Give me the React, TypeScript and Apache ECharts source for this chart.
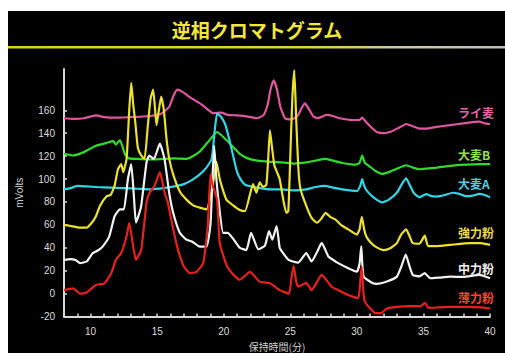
import { useEffect, useRef } from "react";
import * as echarts from "echarts";

// Reversed-phase chromatograms of six cereal flours (retention time in minutes, signal in mV)
const TITLE = "逆相クロマトグラム";
const X_NAME = "保持時間(分)";
const Y_NAME = "mVolts";

const SAMPLE_NAMES = ["ライ麦", "大麦B", "大麦A", "強力粉", "中力粉", "薄力粉"];

const X_TICKS = [9, 10, 11, 12, 13, 14, 15, 16, 17, 18, 19, 20, 21, 22, 23, 24, 25, 26, 27, 28, 29, 30, 31, 32, 33, 34, 35, 36, 37, 38, 39, 40];
const X_LABELS = [10, 15, 20, 25, 30, 35, 40];
const Y_TICKS = [-20, 0, 20, 40, 60, 80, 100, 120, 140, 160];

type Pt = [number, number];

const rye: Pt[] = [
  [8, 153], [8.7, 152.5], [9.5, 153], [10.4, 155.5], [11, 154], [12, 153.5], [12.9, 154], [13.8, 154.5],
  [14.5, 155], [15.3, 157], [15.9, 163], [16.2, 172], [16.5, 178], [16.9, 176], [17.5, 171], [18.4, 164.5],
  [19.2, 157.5], [19.8, 158], [20.3, 156], [21, 155.5], [21.8, 154.5], [22.5, 153], [23.0, 156], [23.3, 165],
  [23.55, 180], [23.75, 186], [24.0, 178], [24.25, 163], [24.6, 153], [25.0, 152], [25.3, 153], [25.6, 156],
  [25.85, 162], [26.1, 166], [26.4, 161], [26.7, 155], [27.0, 153], [27.3, 154], [27.7, 156], [28.2, 155],
  [28.7, 153], [29.7, 151.5], [30.2, 151.5], [30.4, 153.5], [30.6, 151], [31.0, 146], [31.5, 141], [32.0, 140],
  [32.6, 141.5], [33.2, 145], [33.7, 148], [34.2, 146], [34.7, 144], [35.2, 144], [36, 145.5], [37, 147],
  [38, 148.5], [39.2, 150], [39.6, 148.5], [40, 148],
];

const barleyB: Pt[] = [
  [8, 122], [8.7, 120.5], [9.4, 123], [9.9, 126], [10.4, 129], [11.2, 131.5], [11.7, 133], [11.9, 130],
  [12.2, 134], [12.4, 128], [12.6, 121], [12.9, 118], [13.5, 117.5], [14.5, 117], [15.4, 117.5], [16.3, 118],
  [17.2, 117.5], [17.7, 120], [18.2, 124], [18.8, 132], [19.5, 141], [20.2, 134], [20.7, 128], [21.2, 122],
  [21.8, 118], [22.5, 116], [23.5, 115], [24.4, 114.5], [25.3, 113.5], [26.2, 114.5], [26.9, 116], [27.6, 117.5],
  [28.2, 116], [28.9, 114], [29.9, 112.5], [30.2, 114], [30.4, 120.5], [30.6, 114], [30.9, 111.5], [31.4, 107],
  [31.9, 104.5], [32.4, 106], [33, 109], [33.7, 112], [34.2, 110], [34.7, 108.5], [35.2, 109], [36, 110],
  [37, 111.5], [38.2, 112.5], [39.2, 113], [40, 113],
];

const barleyA: Pt[] = [
  [8, 91], [8.5, 92], [9, 94], [9.7, 93.5], [10.5, 93], [11.5, 92.5], [12.5, 92], [13.5, 91.5], [14.5, 91],
  [15.5, 92], [16.3, 93.5], [17, 95.5], [17.6, 99], [18.2, 104], [18.7, 110], [19.1, 118], [19.3, 140],
  [19.5, 157], [19.75, 155], [20.1, 148], [20.45, 133], [20.75, 118], [21.0, 106], [21.3, 99], [21.6, 95],
  [22.5, 92.5], [23.5, 91], [24.4, 91], [25.3, 90], [26.2, 91], [26.9, 93], [27.6, 94], [28.2, 92.5], [28.9, 91],
  [30, 89.5], [30.25, 94], [30.4, 100], [30.55, 94], [30.8, 89], [31.3, 83.5], [31.9, 79.5], [32.4, 82],
  [33, 88], [33.4, 96], [33.7, 100.5], [34, 94], [34.3, 87.5], [34.7, 84], [35.2, 86.8], [35.6, 85], [36, 84.7],
  [36.6, 86], [37.2, 88], [37.7, 87], [38.2, 85], [38.7, 85.5], [39.2, 87], [39.6, 86], [40, 84],
];

const strongFlour: Pt[] = [
  [8, 60], [8.5, 59], [9.2, 57.5], [9.7, 57.5], [10.1, 62], [10.4, 67.5], [10.7, 76.5], [11.2, 85], [11.5, 86],
  [11.8, 94], [12.05, 108.5], [12.3, 113], [12.45, 106], [12.7, 117.5], [12.9, 160], [13.05, 184], [13.2, 165],
  [13.35, 150], [13.55, 127], [13.8, 120.5], [14.05, 117.5], [14.3, 147], [14.5, 170], [14.7, 178], [14.95, 147],
  [15.1, 158], [15.3, 172], [15.5, 160], [15.7, 135], [15.9, 118], [16.2, 104], [16.7, 89], [17.2, 82],
  [17.7, 77], [18.2, 75], [18.7, 73.5], [19.0, 84], [19.25, 100], [19.45, 115], [19.7, 100], [19.95, 90],
  [20.2, 82], [20.7, 77], [21.2, 73], [21.6, 72], [22.0, 88], [22.2, 95.5], [22.45, 88], [22.7, 97], [22.95, 93],
  [23.2, 95], [23.35, 120], [23.47, 142.5], [23.6, 130], [23.8, 112], [24.0, 106], [24.2, 100], [24.5, 80],
  [24.7, 70.5], [24.85, 72], [25.0, 120], [25.15, 170], [25.3, 195], [25.45, 150], [25.6, 110], [25.75, 92],
  [26.2, 76.5], [26.6, 66], [27.0, 61.8], [27.3, 65], [27.65, 70.5], [28.0, 67], [28.4, 64.5], [28.8, 60],
  [29.35, 56], [30.0, 51.5], [30.2, 56], [30.37, 67], [30.55, 56], [30.7, 50], [31.0, 45], [31.4, 41], [32.0, 38],
  [32.5, 39.5], [33.0, 44], [33.35, 52], [33.7, 56], [34.0, 49], [34.2, 44], [34.7, 43.5], [35.1, 50.5],
  [35.35, 41.5], [36, 41.5], [37, 42.5], [38.5, 44], [39.3, 44], [40, 42.5],
];

const mediumFlour: Pt[] = [
  [8, 29.5], [8.5, 30], [8.9, 29], [9.2, 26.6], [9.7, 28], [10.17, 35.4], [10.6, 38], [10.9, 41], [11.4, 50],
  [11.8, 67.5], [12.2, 73.5], [12.5, 73.5], [12.8, 100], [13.05, 113], [13.25, 85], [13.4, 62], [13.6, 68],
  [13.8, 76.5], [14.2, 114.5], [14.4, 120.5], [14.75, 117.5], [15.2, 130.8], [15.55, 117.5], [15.9, 88],
  [16.2, 70.5], [16.7, 53], [17.2, 47], [17.6, 45.5], [18.2, 41], [18.7, 41], [19.0, 60], [19.15, 100],
  [19.28, 129], [19.45, 100], [19.6, 82], [19.95, 53], [20.3, 53], [20.7, 48], [21.2, 40], [21.7, 38],
  [22.05, 53], [22.6, 38.5], [23.1, 42], [23.4, 54.5], [23.65, 47], [23.97, 59], [24.2, 40], [24.35, 37],
  [24.85, 29.5], [25.2, 28], [25.6, 27], [26.2, 35.4], [26.6, 28], [27.0, 36], [27.36, 44.2], [27.85, 32.5],
  [28.2, 29.5], [28.6, 26.6], [29.35, 22.2], [30.0, 19.2], [30.2, 26], [30.33, 41.2], [30.5, 15], [31.2, 9],
  [31.5, 8.5], [32.25, 10.5], [33.0, 14.8], [33.35, 24], [33.67, 34], [33.95, 24], [34.2, 16.3], [34.7, 15],
  [35.1, 17.8], [35.5, 13.4], [36.2, 14], [37, 14.8], [38, 14.5], [39.2, 16.3], [40, 13.4],
];

const weakFlour: Pt[] = [
  [8, 3], [8.7, 4.6], [9.2, 0], [9.7, 1], [10.4, 7.5], [11.05, 9], [11.55, 17.8], [11.9, 29.5], [12.3, 35.4],
  [12.7, 50], [12.9, 61.8], [13.2, 41], [13.4, 29.5], [13.8, 38.3], [14.2, 79.5], [14.43, 88], [14.8, 94],
  [15.2, 106], [15.56, 88], [15.8, 79.5], [16.1, 62], [16.5, 41], [17.0, 23.6], [17.46, 17.8], [17.96, 19],
  [18.46, 26.6], [18.8, 59], [19.0, 104], [19.15, 95], [19.5, 82], [19.7, 44], [20.2, 25], [20.6, 18],
  [21.2, 12], [21.97, 19], [22.7, 10.4], [23.47, 9], [24.2, 3], [24.9, 0], [25.1, 15], [25.25, 24.5],
  [25.45, 10], [25.6, 6], [26.2, 9.3], [26.6, 3], [27.36, 16.3], [28.1, 6], [28.6, 3], [29.35, -1.3],
  [30.1, -4], [30.25, 10], [30.36, 23.6], [30.5, 0], [30.6, -7], [31.0, -13], [31.4, -17], [31.8, -17],
  [32.25, -13], [33, -11.6], [34, -11], [34.8, -11], [35.1, -8], [35.4, -12.5], [36.2, -12], [37, -11.6],
  [38.5, -11.6], [39.3, -12], [40, -13],
];

const TRACES: Pt[][] = [rye, barleyB, barleyA, strongFlour, mediumFlour, weakFlour];

const LINE_COLORS = ["#e0559f", "#2ddc2a", "#2fd6e6", "#ece22a", "#f2f2f2", "#e8201c"];
const LABEL_COLORS = ["#e463a6", "#8fe24a", "#4ccbe2", "#e8d84a", "#f0f0f0", "#f2452f"];
// legend text placement at the right edge (px)
const LABEL_POS: [number, number][] = [
  [458, 112], [458, 154], [458, 183], [458, 232], [458, 268], [458, 297],
];

const JP_FONT = '"Noto Sans CJK JP", "Noto Sans", sans-serif';
const AX_FONT = '"Liberation Sans", Arial, sans-serif';

export default function App() {
  const ref = useRef<HTMLDivElement>(null);

  useEffect(() => {
    if (!ref.current) return;
    const chart = echarts.init(ref.current, null, { renderer: "svg" });

    const option: any = {
      animation: false,
      backgroundColor: "#ffffff",
      grid: { left: 64, right: 15, top: 69, bottom: 36.5, outerBoundsMode: "none" },
      xAxis: {
        type: "value",
        min: 8,
        max: 40,
        name: X_NAME,
        nameLocation: "middle",
        nameGap: 24,
        nameTextStyle: { color: "#cfcfcf", fontSize: 10, fontFamily: JP_FONT },
        axisLine: { show: true, onZero: false, lineStyle: { color: "#d8d8d8", width: 2 } },
        axisTick: { show: true, inside: true, length: 3, customValues: X_TICKS, lineStyle: { color: "#d8d8d8", width: 1.5 } },
        axisLabel: { customValues: X_LABELS, color: "#dcdcdc", fontSize: 10, fontFamily: AX_FONT, margin: 10 },
        splitLine: { show: false },
      },
      yAxis: {
        type: "value",
        min: -20,
        max: 196,
        name: Y_NAME,
        nameLocation: "middle",
        nameRotate: 90,
        nameGap: 40,
        nameTextStyle: { color: "#cfcfcf", fontSize: 10, fontFamily: AX_FONT },
        axisLine: { show: true, onZero: false, lineStyle: { color: "#d8d8d8", width: 2 } },
        axisTick: { show: true, inside: true, length: 3, customValues: Y_TICKS, lineStyle: { color: "#d8d8d8", width: 1.5 } },
        axisLabel: { customValues: Y_TICKS, color: "#dcdcdc", fontSize: 10, fontFamily: AX_FONT, margin: 9 },
        splitLine: { show: false },
      },
      graphic: [
        { type: "rect", z: -10, shape: { x: 8, y: 11, width: 497, height: 342 }, style: { fill: "#000000" } },
        {
          type: "rect",
          z: -5,
          shape: { x: 8, y: 46, width: 497, height: 2.5 },
          style: {
            fill: new echarts.graphic.LinearGradient(0, 0, 1, 0, [
              { offset: 0, color: "#d8d21c" },
              { offset: 0.6, color: "#dcd63a" },
              { offset: 0.8, color: "#c8c8b0" },
              { offset: 1, color: "#bdbdbd" },
            ]),
          },
        },
        {
          type: "text",
          x: 257,
          y: 29,
          style: {
            text: TITLE,
            fill: "#f2e63a",
            font: `bold 19px ${JP_FONT}`,
            align: "center",
            verticalAlign: "middle",
          },
        },
        ...SAMPLE_NAMES.map((name, i) => ({
          type: "text",
          x: LABEL_POS[i][0],
          y: LABEL_POS[i][1],
          style: {
            text: name,
            fill: LABEL_COLORS[i],
            font: `bold 12px ${JP_FONT}`,
            align: "left",
            verticalAlign: "middle",
          },
        })),
      ],
      series: SAMPLE_NAMES.map((name, i) => ({
        name,
        type: "line",
        data: TRACES[i],
        showSymbol: false,
        symbol: "none",
        smooth: 0.15,
        lineStyle: { color: LINE_COLORS[i], width: 2.2 },
        z: 2 + i,
      })),
    };

    chart.setOption(option);
    return () => chart.dispose();
  }, []);

  return (
    <div
      ref={ref}
      style={{ position: "fixed", left: 0, top: 0, width: 505, height: 353 }}
    />
  );
}
